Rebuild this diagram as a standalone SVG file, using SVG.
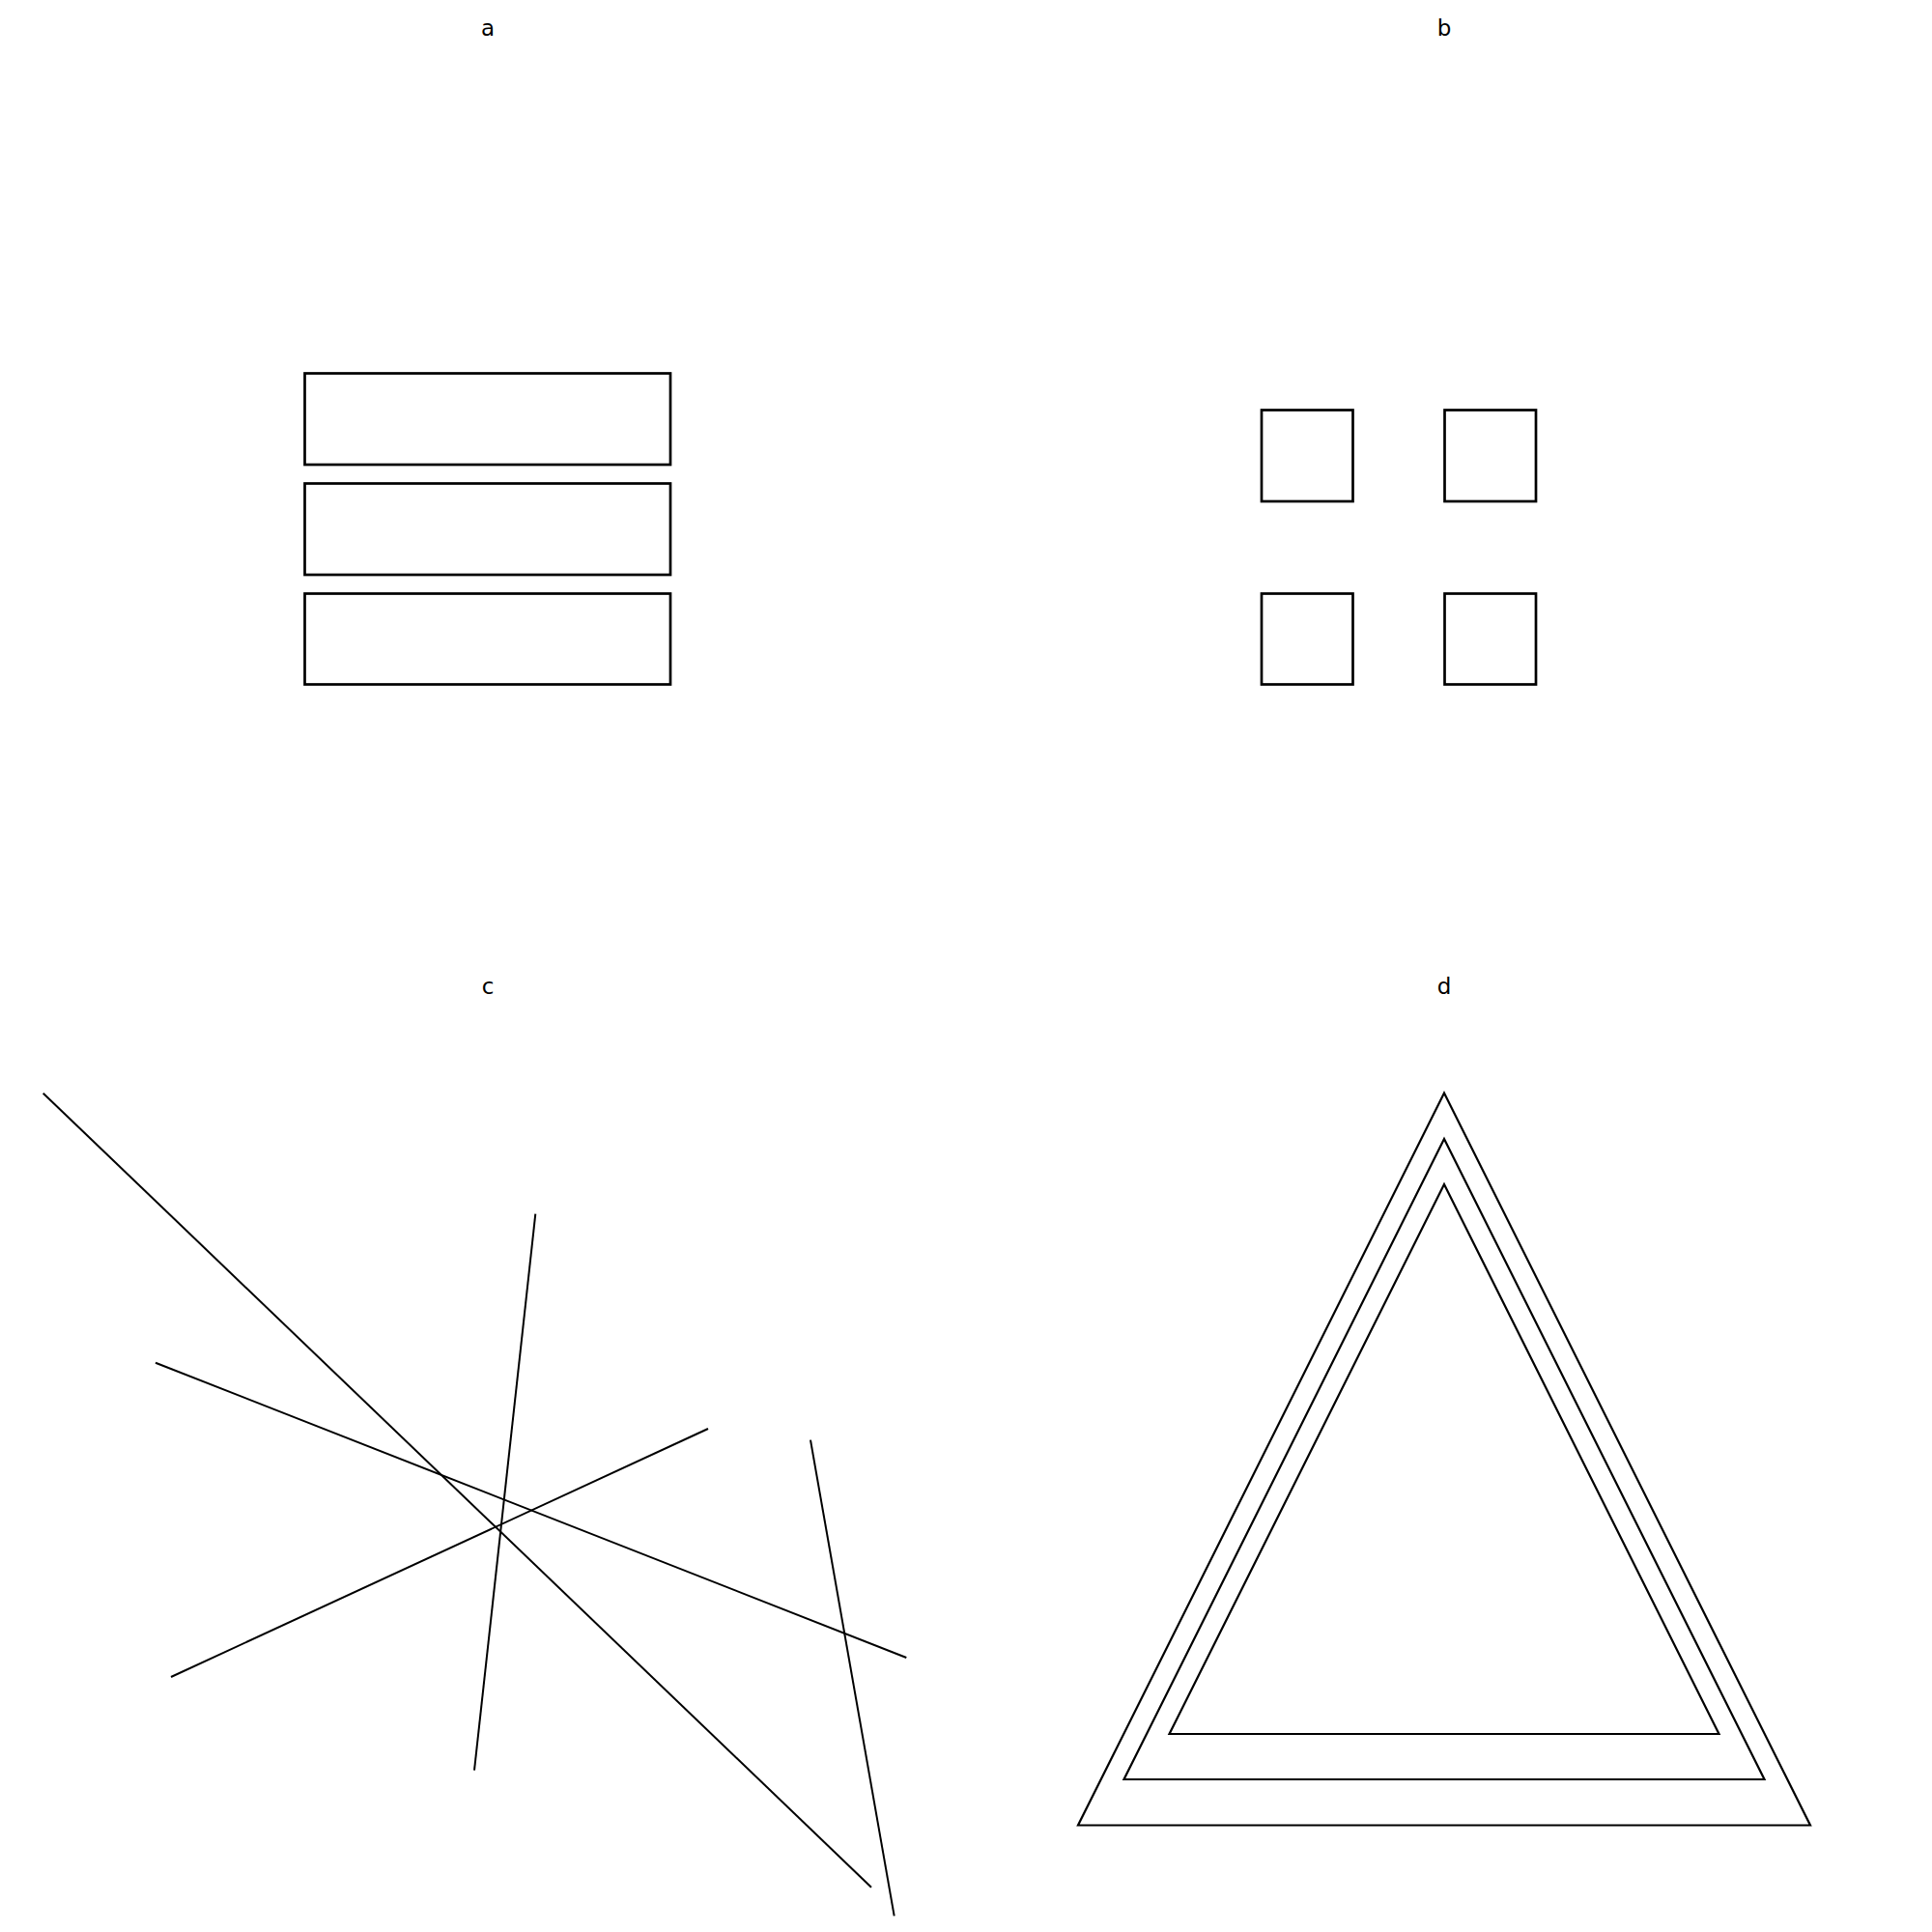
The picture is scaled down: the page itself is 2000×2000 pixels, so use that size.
<svg xmlns="http://www.w3.org/2000/svg" width="2000" height="2000" viewBox="0 0 2000 2000">
<style>
.lbl{font-family:"DejaVu Sans",sans-serif;font-size:23px;fill:#000;text-anchor:middle}
.box{fill:none;stroke:#000;stroke-width:2.7}
.ln{fill:none;stroke:#000;stroke-width:2}
.tri{fill:none;stroke:#000;stroke-width:2.2;stroke-linejoin:miter}
</style>
<rect width="2000" height="2000" fill="#fff"/>
<text class="lbl" x="505" y="36.5">a</text>
<text class="lbl" x="1495" y="36.5">b</text>
<text class="lbl" x="505" y="1029.3">c</text>
<text class="lbl" x="1495" y="1029.3">d</text>
<g id="panel-a">
<rect id="a-r1" class="box" x="315.5" y="386.5" width="378.5" height="94.5"/>
<rect id="a-r2" class="box" x="315.5" y="500.5" width="378.5" height="94.5"/>
<rect id="a-r3" class="box" x="315.5" y="614.5" width="378.5" height="94"/>
</g>
<g id="panel-b">
<rect id="b-s1" class="box" x="1306" y="424.5" width="94.5" height="94.5"/>
<rect id="b-s2" class="box" x="1495.5" y="424.5" width="94.5" height="94.5"/>
<rect id="b-s3" class="box" x="1306" y="614.5" width="94.5" height="94"/>
<rect id="b-s4" class="box" x="1495.5" y="614.5" width="94.5" height="94"/>
</g>
<g id="panel-c">
<line class="ln" x1="44.7" y1="1131.7" x2="902" y2="1953.7"/>
<line class="ln" x1="554.3" y1="1256.7" x2="491" y2="1832.7"/>
<line class="ln" x1="161" y1="1410.7" x2="938.3" y2="1716"/>
<line class="ln" x1="733" y1="1479" x2="177" y2="1736"/>
<line class="ln" x1="839" y1="1490.7" x2="925.7" y2="1983.3"/>
</g>
<g id="panel-d">
<polygon id="d-t1" class="tri" points="1495,1131.5 1874,1889.5 1116,1889.5"/>
<polygon id="d-t2" class="tri" points="1495,1179 1826.5,1842 1163.5,1842"/>
<polygon id="d-t3" class="tri" points="1495,1226 1779.5,1795 1210.5,1795"/>
</g>
</svg>
